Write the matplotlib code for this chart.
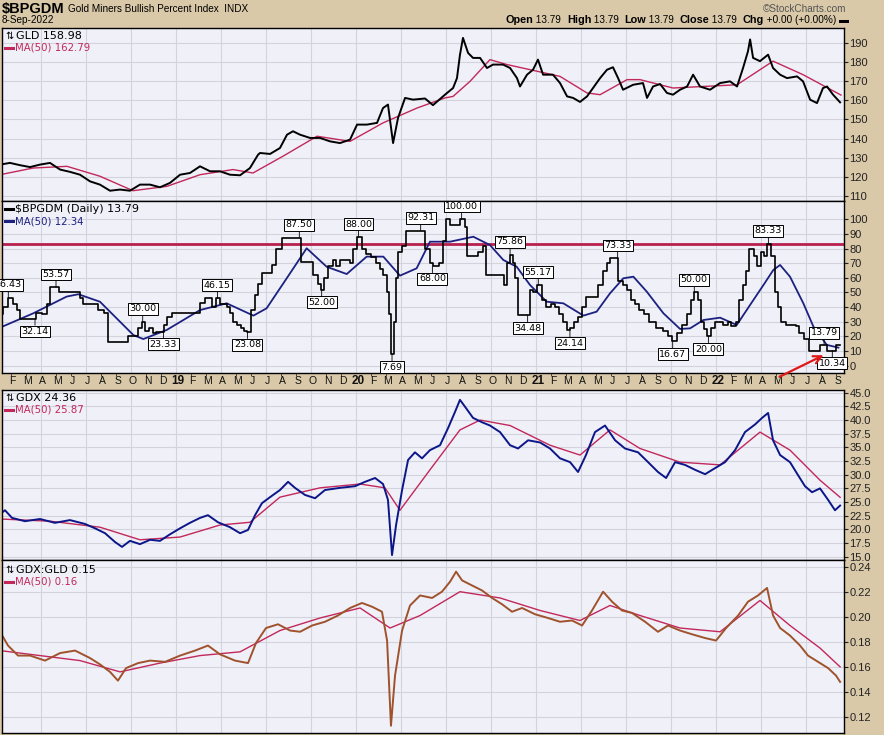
import matplotlib
matplotlib.use('Agg')
import matplotlib.pyplot as plt
from matplotlib.transforms import blended_transform_factory
from matplotlib.lines import Line2D
import matplotlib.ticker as mticker
import matplotlib.patches as mpatches

# ---------------- DATA (time = months since 1-Jan-2018) ----------------
gld_t = [0.27,0.93,1.6,2.27,2.93,3.6,4.27,4.93,5.6,6.27,6.93,7.6,8.27,8.93,9.6,10.27,10.93,11.6,12.27,12.93,
         13.6,14.27,14.93,15.6,16.27,16.93,17.47,17.6,18.27,18.93,19.4,19.8,20.27,20.93,21.6,22.27,22.93,23.6,
         24.07,24.73,25.4,25.8,26.13,26.47,26.8,27.27,27.8,28.6,29.13,29.93,30.47,30.73,30.93,31.13,31.47,31.8,
         32.27,32.73,33.13,33.8,34.27,34.73,34.93,35.4,35.8,36.13,36.47,37.13,37.6,38.07,38.47,38.93,39.4,39.8,
         40.27,40.73,41.13,41.47,41.8,42.47,43.13,43.4,43.8,44.27,44.73,45.13,45.6,46.07,46.47,46.93,47.6,48.27,
         48.93,49.4,49.8,50.13,50.27,50.47,50.93,51.47,51.8,52.27,52.73,53.4,53.8,54.27,54.73,55.13,55.4,55.8,56.27]
gld_v = [126.3,127.2,126.0,125.0,126.3,127.2,123.7,122.5,121.0,117.5,115.8,112.6,113.2,112.6,115.8,115.8,114.4,116.7,121.0,121.9,
         125.4,122.8,122.8,121.0,120.7,124.5,131.5,132.4,131.9,135.0,142.0,143.8,142.0,140.3,140.3,138.5,137.6,139.4,
         147.3,147.3,148.2,156.0,157.8,137.6,150.8,161.3,160.4,161.0,157.5,163.0,166.5,171.7,184.0,192.8,184.9,182.3,
         182.3,177.0,178.8,178.8,177.0,171.7,167.3,173.5,176.1,181.4,173.5,173.5,169.1,162.1,161.3,159.2,162.1,166.5,
         171.7,176.1,177.4,171.7,165.6,168.2,169.1,161.3,167.3,168.6,163.9,163.0,165.6,167.3,173.5,167.3,165.6,169.1,
         170.0,167.3,177.0,185.8,192.0,182.3,180.6,184.0,177.0,173.5,171.7,172.6,170.0,160.4,158.6,166.5,167.3,163.0,158.98]
gld_ma_t = [0.27,2.47,4.73,6.93,9.13,11.4,13.6,15.8,17.13,19.13,21.4,23.6,25.8,28.07,29.93,30.47,31.6,32.93,34.07,
            36.07,37.6,39.4,40.27,42.07,42.93,45.13,47.13,49.4,51.8,53.8,56.33]
gld_ma_v = [121.0,124.5,125.4,120.2,112.6,114.9,121.0,123.7,121.9,130.7,141.2,138.5,148.2,156.0,161.3,162.1,170.0,181.4,178.8,
            175.3,172.6,163.9,163.0,170.9,170.9,166.5,167.3,168.2,180.6,173.5,162.79]

bp_t = [0.27,0.38,0.49,0.82,1.16,1.38,1.6,2.67,3.04,3.38,3.6,4.22,5.6,5.82,6.82,7.2,7.49,8.78,9.49,9.71,9.93,10.22,
        10.44,10.67,11.2,11.42,11.71,13.6,13.93,14.38,14.67,14.93,15.38,15.6,15.82,16.09,16.31,16.53,16.76,16.98,17.27,
        17.49,17.71,18.38,18.67,19.04,20.33,21.16,21.49,21.64,21.87,22.16,22.44,22.67,22.93,23.6,23.78,24.04,24.38,24.67,
        24.98,25.33,25.6,25.82,26.04,26.22,26.36,26.53,26.67,26.82,27.04,27.33,28.6,28.93,29.16,29.56,29.78,30.0,30.27,
        30.93,31.27,31.38,32.16,32.44,32.67,33.86,34.09,34.27,34.44,34.62,34.78,35.6,35.82,36.09,36.38,36.67,36.98,37.27,
        37.56,37.78,38.04,38.27,38.53,38.82,39.04,39.33,40.16,40.44,40.71,40.93,41.49,41.78,42.09,42.33,42.6,42.89,43.2,
        43.56,44.0,44.44,44.82,45.09,45.38,45.71,46.04,46.31,46.53,46.82,46.98,47.2,47.42,47.64,47.93,48.44,48.78,49.0,
        49.33,49.56,49.78,50.0,50.18,50.53,50.76,50.98,51.2,51.42,51.69,51.91,52.13,52.35,52.66,53.33,53.55,53.86,54.22,
        54.9,55.4,56.0,56.27]
bp_v = [27,35,40,46.43,42,38,32.14,36,35,42,53.57,50,46,42,38,36,16.4,20,26,30,24,26,
        22,23.33,28,33,36,43,46,40,46.15,42,40,36,30,28,26,24,23.08,38,48,
        56,63,69,80,87.5,71,62,56,52,60,68,72,68,72,70,80,88,80,76,
        74,70,66,62,50,35,7.69,30,60,78,82,92.31,80,70,68,70,85,100,96,
        100,95,75,78,82,62,55,70,75.86,70,60,34.48,52,50,55.17,45,40,42,40,
        35,30,24.14,26,30,33,40,47,55,65,70,73.33,58,55,52,45,42,38,35,
        30,26,24,20,16.67,22,28,35,45,50,45,30,25,20,26,30,28,30,27,
        30,45,55,65,80,75,68,78,75,83.33,75,50,40,30,28,27,22,18,10,
        13.79,10.34,13.79,13.79]
bp_ma_t = [0.27,2.49,4.71,5.49,6.93,9.16,9.82,11.38,13.6,15.38,17.16,18.04,19.38,20.71,22.04,23.38,24.71,25.82,26.93,
           28.04,28.93,30.27,31.82,32.93,33.82,34.71,35.6,36.71,37.82,39.16,40.04,40.93,41.82,42.49,43.38,44.49,45.6,
           46.27,47.16,48.27,49.38,50.27,51.16,51.82,52.27,52.93,53.82,54.49,55.38,56.16]
bp_ma_v = [26.0,35.8,47.2,48.8,43.7,20.9,18.2,24.4,38.0,42.6,34.2,39.2,59.7,80.2,67.6,62.6,74.5,74.5,61.5,
           66.5,84.7,84.7,88.1,82.4,72.2,67.6,55.1,43.7,42.6,34.2,36.9,49.4,59.7,60.8,50.6,35.8,25.1,
           25.5,31.2,32.8,27.8,41.5,55.1,65.4,68.8,60.8,42.6,26.7,14.2,12.34]
bp_level = 83.3
bp_labels_t = [0.82,2.6,4.0,9.78,11.16,14.76,16.76,20.22,21.71,24.16,26.4,28.31,29.09,31.04,34.27,35.44,36.15,38.26,
               41.44,45.11,46.55,47.49,51.49,55.2,55.75]
bp_labels_v = [46.43,32.14,53.57,30.00,23.33,46.15,23.08,87.50,52.00,88.00,7.69,92.31,68.00,100.00,75.86,34.48,55.17,24.14,
               73.33,16.67,50.00,20.00,83.33,13.79,10.34]
bp_labels_up = [1,0,1,1,0,1,0,1,0,1,0,1,0,1,1,0,1,0,1,0,1,0,1,1,0]

gdx_t = [0.27,0.6,1.07,1.93,2.93,3.93,4.93,5.93,6.6,7.27,7.93,8.4,8.93,9.6,10.27,10.93,11.6,12.27,12.93,13.6,14.13,
         14.8,15.6,16.27,16.8,17.27,17.73,18.27,18.93,19.47,19.93,20.6,21.27,21.93,22.93,23.93,24.6,25.27,25.8,26.13,
         26.4,26.67,27.07,27.47,27.93,28.4,28.93,29.6,30.13,30.6,30.93,31.33,31.8,32.4,32.93,33.6,34.27,34.8,35.47,
         36.27,36.93,37.6,38.27,38.8,39.33,39.93,40.6,41.27,41.93,42.8,43.47,44.13,44.67,45.27,45.93,46.6,47.27,47.93,
         48.6,49.27,49.93,50.6,51.07,51.47,51.8,52.27,52.93,53.47,53.93,54.4,54.93,55.47,55.93,56.27]
gdx_v = [22.8,23.5,22.1,21.5,21.9,21.2,21.7,21.0,20.2,19.3,17.7,16.8,17.9,17.3,18.1,17.9,19.1,20.2,21.2,22.1,22.6,
         21.3,20.4,19.3,19.9,22.6,24.8,25.9,27.2,28.7,27.6,26.3,25.7,27.2,27.6,27.9,28.7,29.4,28.3,25.4,
         15.3,20.8,27.2,32.7,34.1,33.0,34.5,35.4,38.5,41.5,43.7,42.2,40.4,39.6,39.0,37.8,35.4,34.8,36.3,
         35.9,34.8,33.0,32.3,30.5,33.6,37.8,39.0,36.3,34.8,34.1,32.3,30.5,29.4,32.3,31.8,30.9,30.1,31.2,
         32.3,34.5,37.8,39.2,40.4,41.3,36.3,33.6,32.3,29.9,27.9,26.8,27.5,25.4,23.5,24.36]
gdx_ma_t = [0.27,3.6,6.93,9.6,12.27,14.93,16.93,18.93,21.6,24.27,25.93,26.93,28.93,30.93,32.27,34.27,36.93,38.93,
            40.93,42.93,45.6,48.27,50.93,52.93,54.93,56.27]
gdx_ma_v = [21.9,21.5,20.4,18.1,18.6,20.8,21.3,25.9,27.6,28.3,27.6,23.5,30.9,38.2,40.0,39.0,35.4,33.6,
            38.2,34.8,32.3,31.8,37.8,34.5,29.0,25.87]

ratio_t = [0.27,0.8,1.47,2.27,3.27,4.27,5.27,6.27,6.93,7.6,8.13,8.67,9.47,10.27,11.27,12.27,13.27,14.13,14.93,15.93,
           16.8,17.33,18.0,18.8,19.6,20.27,21.07,21.93,22.8,23.6,24.4,25.07,25.73,26.07,26.33,26.6,27.07,27.6,28.27,
           29.07,29.73,30.27,30.67,31.07,31.73,32.4,33.07,33.73,34.4,35.07,35.93,36.8,37.6,38.4,39.07,39.73,40.47,
           41.07,41.73,42.4,43.27,44.13,44.8,45.6,46.4,47.27,48.0,48.67,49.47,50.13,50.8,51.4,51.8,52.27,52.93,
           53.6,54.13,54.8,55.47,56.0,56.27]
ratio_v = [0.188,0.177,0.169,0.169,0.165,0.171,0.173,0.167,0.162,0.156,0.149,0.159,0.163,0.165,0.164,0.169,0.173,0.177,0.170,0.165,
           0.163,0.179,0.191,0.194,0.189,0.188,0.193,0.196,0.201,0.207,0.211,0.208,0.204,0.181,0.113,0.153,0.189,0.209,0.217,
           0.215,0.220,0.228,0.236,0.229,0.225,0.221,0.215,0.210,0.204,0.207,0.202,0.199,0.196,0.197,0.193,0.205,0.220,
           0.212,0.205,0.203,0.196,0.188,0.193,0.189,0.186,0.183,0.181,0.191,0.201,0.212,0.217,0.223,0.201,0.191,0.185,
           0.177,0.169,0.164,0.159,0.153,0.148]
ratio_ma_t = [0.27,2.93,5.6,8.27,10.93,13.6,16.27,18.93,21.6,24.27,26.27,28.27,30.93,33.6,36.27,38.93,40.93,42.93,
              45.6,48.27,50.93,52.93,54.93,56.27]
ratio_ma_v = [0.173,0.169,0.165,0.156,0.163,0.169,0.172,0.189,0.199,0.207,0.191,0.201,0.220,0.215,0.205,0.197,0.209,0.201,
              0.191,0.188,0.213,0.193,0.175,0.16]

month_letters = ['J','F','M','A','M','J','J','A','S','O','N','D']
year_labels = {12: '19', 24: '20', 36: '21', 48: '22'}

# ---------------- STYLE ----------------
BG = '#d9c9a9'
FACE = '#eff0f8'
GRID = '#d3d3de'
CRIMSON = '#c2285a'
NAVY = '#1c2180'
BROWN = '#a0522d'
W, H = 884, 735
XL = (0.4, 56.53)
SANS = ['Liberation Sans', 'DejaVu Sans']

fig = plt.figure(figsize=(W/100, H/100), dpi=100)
fig.patch.set_facecolor(BG)

def add_ax(top, bottom):
    ax = fig.add_axes([2/W, 1 - bottom/H, 842/W, (bottom - top)/H])
    ax.set_facecolor(FACE)
    ax.set_xlim(*XL)
    ax.set_xticks(range(3, 57, 3))
    ax.grid(True, color=GRID, lw=0.8)
    ax.set_axisbelow(True)
    ax.tick_params(axis='x', bottom=False, labelbottom=False)
    ax.yaxis.tick_right()
    ax.tick_params(axis='y', direction='out', length=3, width=0.8, pad=1, labelsize=8,
                   labelcolor='#222222', colors='#222222')
    for s in ax.spines.values():
        s.set_color('black'); s.set_linewidth(1.0)
    return ax

def set_ylab_font(ax):
    for lab in ax.get_yticklabels():
        lab.set_fontfamily(SANS)

def main_legend(ax, y1, t1, icon=True):
    tr = ax.transAxes
    x0 = 3/842
    if icon:
        ax.text(x0, y1, '\u21c5', transform=tr, fontsize=7, va='center', ha='left', color='black')
        ax.text(x0 + 11/842, y1, t1, transform=tr, fontsize=8, va='center', ha='left', color='black')
    else:
        ax.add_line(Line2D([x0, x0 + 8/842], [y1, y1], transform=tr, color='black', lw=2.2))
        ax.text(x0 + 10/842, y1, t1, transform=tr, fontsize=8, va='center', ha='left', color='black')

def ma_legend(ax, y2, t2, col):
    tr = ax.transAxes
    x0 = 3/842
    ax.add_line(Line2D([x0, x0 + 8/842], [y2, y2], transform=tr, color=col, lw=2.2))
    ax.text(x0 + 10/842, y2, t2, transform=tr, fontsize=7.3, va='center', ha='left', color=col)

# ---- Panel 1: GLD ----
ax1 = add_ax(28, 201)
ax1.set_ylim(107.2, 198.0)
ax1.set_yticks(range(110, 200, 10))
ax1.plot(gld_ma_t, gld_ma_v, color=CRIMSON, lw=1.0)
ax1.plot(gld_t, gld_v, color='black', lw=1.4)
main_legend(ax1, 1 - 8/173, 'GLD 158.98')
ma_legend(ax1, 1 - 20/173, 'MA(50) 162.79', CRIMSON)

# ---- Panel 2: $BPGDM ----
ax2 = add_ax(201, 373)
ax2.set_ylim(-5.0, 112.5)
ax2.set_yticks(range(0, 101, 10))
ax2.axhline(bp_level, color='#b8204e', lw=2.0)
ax2.plot(bp_ma_t, bp_ma_v, color=NAVY, lw=1.3)
ax2.plot(bp_t, bp_v, color='black', lw=1.2, drawstyle='steps-post')
main_legend(ax2, 1 - 8/172, '$BPGDM (Daily) 13.79', icon=False)
ma_legend(ax2, 1 - 20/172, 'MA(50) 12.34', NAVY)
for t, v, up in zip(bp_labels_t, bp_labels_v, bp_labels_up):
    off = 6 if up else -6
    ann = ax2.annotate(f'{v:.2f}', xy=(t, v), xytext=(0, off), textcoords='offset points',
                       ha='center', va='bottom' if up else 'top', fontsize=6.8, color='black',
                       bbox=dict(boxstyle='square,pad=0.15', fc='white', ec='black', lw=0.7),
                       arrowprops=dict(arrowstyle='-', color='black', lw=0.6, shrinkA=0, shrinkB=0))
    ann.set_clip_on(True)

# month labels in band
trb = blended_transform_factory(ax2.transData, fig.transFigure)
for k in range(1, 57):
    if k in year_labels:
        ax2.text(k + 0.12, 1 - 381/H, year_labels[k], transform=trb, fontsize=8.5, fontweight='bold',
                 family=SANS, ha='center', va='center', color='#111111', clip_on=False)
    else:
        ax2.text(k + 0.12, 1 - 381/H, month_letters[k % 12], transform=trb, fontsize=7.5,
                 family=SANS, ha='center', va='center', color='#111111', clip_on=False)
ax2.set_xticks(range(1, 57), minor=True)
ax2.tick_params(axis='x', which='minor', bottom=True, direction='out', length=2.5, width=0.6, colors='#333333')

# red arrow
fig.add_artist(mpatches.FancyArrowPatch((777/W, 1 - 378/H), (826/W, 1 - 354/H),
               transform=fig.transFigure, arrowstyle='->', mutation_scale=14, color='#e01818', lw=1.6))

# ---- Panel 3: GDX ----
ax3 = add_ax(390, 560)
ax3.set_ylim(14.4, 45.5)
ax3.set_yticks([15 + 2.5*i for i in range(13)])
ax3.yaxis.set_major_formatter(mticker.FormatStrFormatter('%.1f'))
ax3.plot(gdx_ma_t, gdx_ma_v, color=CRIMSON, lw=1.0)
ax3.plot(gdx_t, gdx_v, color='#0c1688', lw=1.4)
main_legend(ax3, 1 - 8/170, 'GDX 24.36')
ma_legend(ax3, 1 - 20/170, 'MA(50) 25.87', CRIMSON)

# ---- Panel 4: GDX:GLD ----
ax4 = add_ax(560, 733)
ax4.set_ylim(0.1072, 0.2453)
ax4.set_yticks([0.12, 0.14, 0.16, 0.18, 0.20, 0.22, 0.24])
ax4.yaxis.set_major_formatter(mticker.FormatStrFormatter('%.2f'))
ax4.plot(ratio_ma_t, ratio_ma_v, color=CRIMSON, lw=1.0)
ax4.plot(ratio_t, ratio_v, color=BROWN, lw=1.4)
main_legend(ax4, 1 - 10/173, 'GDX:GLD 0.15')
ma_legend(ax4, 1 - 22/173, 'MA(50) 0.16', CRIMSON)

for a in (ax1, ax2, ax3, ax4):
    set_ylab_font(a)

# ---- Header ----
renderer = fig.canvas.get_renderer()
t0 = fig.text(2/W, 1 - 9/H, '$BPGDM', fontsize=10.5, fontweight='bold', family=SANS, va='center', ha='left')
bx = t0.get_window_extent(renderer=renderer)
fig.text((bx.x1 + 3)/W, 1 - 9/H, 'Gold Miners Bullish Percent Index  INDX', fontsize=7.2, family=SANS,
         va='center', ha='left')
fig.text(2/W, 1 - 20/H, '8-Sep-2022', fontsize=7.2, family=SANS, va='center', ha='left')
fig.text(846/W, 1 - 9/H, '\u00a9StockCharts.com', fontsize=7.2, family=SANS, color='#555555',
         va='center', ha='right')

pieces = [('Open', 'bold'), (' 13.79  ', 'normal'), ('High', 'bold'), (' 13.79  ', 'normal'),
          ('Low', 'bold'), (' 13.79  ', 'normal'), ('Close', 'bold'), (' 13.79  ', 'normal'),
          ('Chg', 'bold'), (' +0.00 (+0.00%) ', 'normal'), ('\u25ac', 'normal')]
objs = []
total = 0
for txt, wt in pieces:
    t = fig.text(0, 1 - 20/H, txt, fontsize=7.8 if wt == 'bold' else 7.2, fontweight=wt, family=SANS,
                 va='center', ha='left')
    w = t.get_window_extent(renderer=renderer).width
    objs.append((t, w))
    total += w
xcur = 849 - total
for t, w in objs:
    t.set_x(xcur/W)
    xcur += w

fig.savefig('out.png', dpi=100, facecolor=BG)
